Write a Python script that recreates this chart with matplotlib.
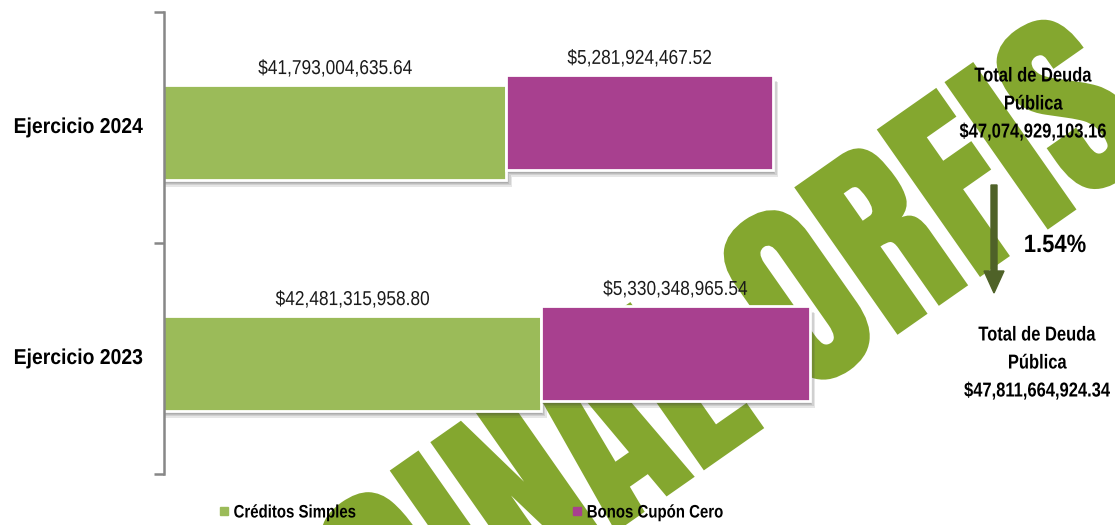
import matplotlib
matplotlib.use('Agg')
import matplotlib.pyplot as plt
import matplotlib.patheffects as pe
from matplotlib.patches import PathPatch, FancyArrow
from matplotlib.path import Path
from matplotlib.textpath import TextPath
from matplotlib.font_manager import FontProperties
from matplotlib.transforms import Affine2D, IdentityTransform
from matplotlib.lines import Line2D

# data
years = ['Ejercicio 2023', 'Ejercicio 2024']
creditos = [42481315958.80, 41793004635.64]
bonos = [5330348965.54, 5281924467.52]
series_names = ['Créditos Simples', 'Bonos Cupón Cero']
colors = ['#9bbb59', '#a8408f']
watermark = 'ORIGINAL ORFIS'

plt.rcParams['font.family'] = ['Liberation Sans', 'DejaVu Sans']


class Squeeze(pe.AbstractPathEffect):
    # narrow the text horizontally (stand-in for Arial Narrow)
    def __init__(self, sx, anchor='center'):
        super().__init__()
        self.sx = sx
        self.anchor = anchor

    def draw_path(self, renderer, gc, tpath, affine, rgbFace=None):
        v = tpath.vertices
        if tpath.codes is not None:
            v = v[tpath.codes != Path.CLOSEPOLY]
        if len(v):
            xs = affine.transform(v)[:, 0]
            a = {'left': xs.min(), 'right': xs.max()}.get(self.anchor, (xs.min() + xs.max()) / 2)
            affine = affine + Affine2D().translate(-a, 0).scale(self.sx, 1).translate(a, 0)
        renderer.draw_path(gc, tpath, affine, rgbFace)


W, H = 1115, 525
fig = plt.figure(figsize=(W / 100, H / 100), dpi=100)
ax = fig.add_axes([164 / W, 51 / H, 951 / W, 462 / H])
ax.patch.set_visible(False)

# watermark behind everything
fp = FontProperties(family=['Anton', 'Liberation Sans'], weight='bold')
def ext(s):
    return TextPath((0, 0), s, size=1, prop=fp).get_extents()
cap = ext('I').height
xF = ext(watermark[:12]).x1 - ext('F').width
xI = ext(watermark[:5]).x1 - ext('I').width / 2
sy = 180 / cap
sx = 577 / (xF - xI)
tp = TextPath((0, 0), watermark, size=1, prop=fp)
tr = Affine2D().translate(-xF, 0).scale(sx, sy).rotate_deg(35).translate(980, H - 277)
fig.add_artist(PathPatch(tp, transform=tr, facecolor='#84a72f', lw=0, zorder=-10))

# soft drop shadow made of a few faint offset copies
shadow = [pe.SimplePatchShadow(offset=(o, -o - 1), shadow_rgbFace='0.25', alpha=0.13)
          for o in (1, 2, 3, 4)] + [pe.Normal()]
ypos = list(range(len(years)))
bh = 0.41
g = ax.barh([y - 0.022 for y in ypos], creditos, height=bh, color=colors[0],
            edgecolor='white', linewidth=2, path_effects=shadow)
p = ax.barh([y + 0.022 for y in ypos], bonos, left=creditos, height=bh, color=colors[1],
            edgecolor='white', linewidth=2, path_effects=shadow)

xmin, xmax = 35e9, 53.87e9
ax.set_xlim(xmin, xmax)
ax.set_ylim(-0.5, 1.5)

for bars, vals in ((g, creditos), (p, bonos)):
    for rect, v in zip(bars, vals):
        x0 = max(rect.get_x(), xmin)
        x1 = rect.get_x() + rect.get_width()
        ax.annotate(f'${v:,.2f}', ((x0 + x1) / 2, rect.get_y() + rect.get_height()),
                    xytext=(0, 12), textcoords='offset points', ha='center', va='center',
                    fontsize=14.5, color='#1a1a1a', path_effects=[Squeeze(0.86)])

for s in ('top', 'right', 'bottom'):
    ax.spines[s].set_visible(False)
ax.spines['left'].set_color('#878787')
ax.spines['left'].set_linewidth(1.8)
ax.set_xticks([])
ax.set_yticks([-0.5, 0.5, 1.5])
ax.set_yticklabels([])
ax.tick_params(axis='y', which='major', length=7, width=1.8, color='#878787')
for y, name in zip(ypos, years):
    ax.text(-21 / 951, y, name, transform=ax.get_yaxis_transform(), ha='right', va='center',
            fontsize=15.5, fontweight='bold', path_effects=[Squeeze(0.9, 'right')])

# totals and change
tot = [c + b for c, b in zip(creditos, bonos)]
pct = (tot[0] - tot[1]) / tot[0] * 100
fig.text(1033 / W, 1 - 104 / H, f'Total de Deuda\nPública\n${tot[1]:,.2f}', ha='center', va='center',
         fontsize=14.5, fontweight='bold', linespacing=1.6, path_effects=[Squeeze(0.82)])
fig.text(1037 / W, 1 - 363 / H, f'Total de Deuda\nPública\n${tot[0]:,.2f}', ha='center', va='center',
         fontsize=14.5, fontweight='bold', linespacing=1.6, path_effects=[Squeeze(0.82)])
fig.add_artist(FancyArrow(994, H - 185, 0, -108, width=6, head_width=20, head_length=22,
                          length_includes_head=True, color='#4f6228', transform=IdentityTransform()))
fig.text(1055 / W, 1 - 245 / H, f'{pct:.2f}%', ha='center', va='center', fontsize=18,
         fontweight='bold', path_effects=[Squeeze(0.88)])

handles = [Line2D([], [], marker='s', ls='', color=c, markersize=6) for c in colors]
leg = fig.legend(handles, series_names, loc='center left', bbox_to_anchor=(219 / W, 12 / H), ncol=2,
                 frameon=False, prop=dict(weight='bold', size=13), handlelength=0.5,
                 handletextpad=0.3, columnspacing=10.6, borderaxespad=0, borderpad=0)
for t in leg.get_texts():
    t.set_path_effects([Squeeze(0.83, 'left')])

fig.savefig('out.png', dpi=100)
